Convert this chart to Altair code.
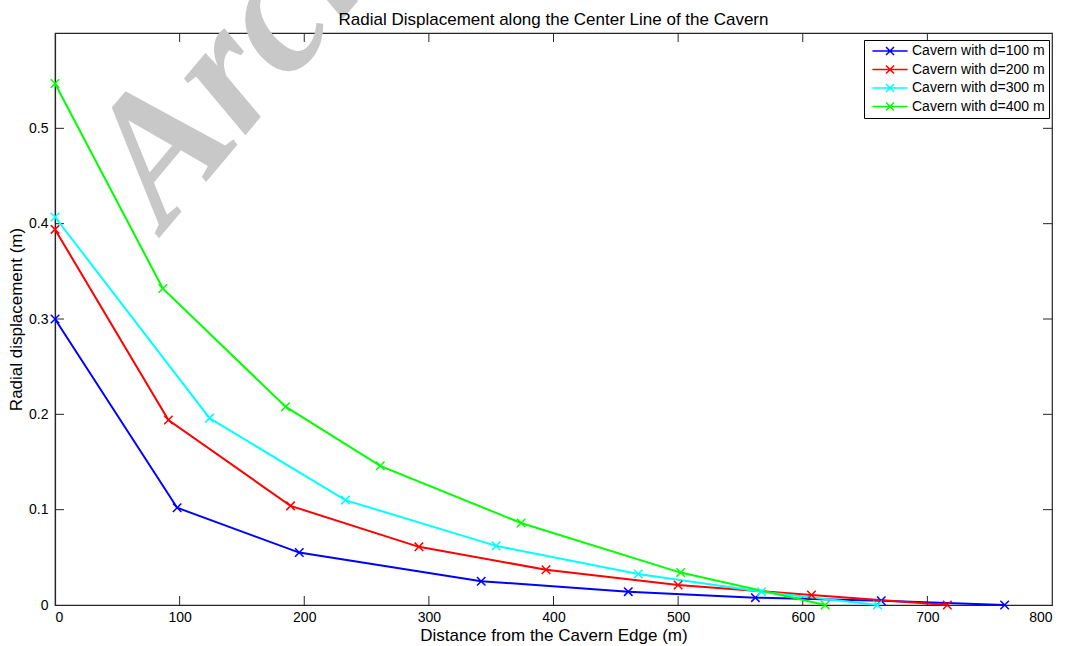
import altair as alt
import pandas as pd

# ---------------- data ----------------
series_names = ["Cavern with d=100 m", "Cavern with d=200 m",
                "Cavern with d=300 m", "Cavern with d=400 m"]
series_colors = ["#0000ff", "#ff0000", "#00ffff", "#00ff00"]

d100_x = [0, 98, 196, 342, 460, 562, 663, 762]
d100_y = [0.300, 0.102, 0.055, 0.025, 0.014, 0.0077, 0.0045, 0.0]

d200_x = [0, 91, 189, 292, 394, 500, 607, 716]
d200_y = [0.394, 0.194, 0.104, 0.061, 0.037, 0.021, 0.0105, 0.0]

d300_x = [0, 124, 233, 354, 468, 567, 660]
d300_y = [0.407, 0.196, 0.110, 0.062, 0.0325, 0.014, 0.0]

d400_x = [0, 86.5, 185, 261, 374, 502, 618]
d400_y = [0.547, 0.332, 0.208, 0.146, 0.086, 0.034, 0.0]

x_ticks = [0, 100, 200, 300, 400, 500, 600, 700, 800]
y_ticks = [0, 0.1, 0.2, 0.3, 0.4, 0.5]
inner_x_ticks = [100, 200, 300, 400, 500, 600, 700]
inner_y_ticks = [0.1, 0.2, 0.3, 0.4, 0.5]

title_text = "Radial Displacement along the Center Line of the Cavern"
x_title = "Distance from the Cavern Edge (m)"
y_title = "Radial displacement (m)"
watermark = "Archive of SID"

# ---------------- tables ----------------
rows = []
for name, xs, ys in zip(series_names, [d100_x, d200_x, d300_x, d400_x],
                        [d100_y, d200_y, d300_y, d400_y]):
    for i, (xv, yv) in enumerate(zip(xs, ys)):
        rows.append({"series": name, "x": xv, "y": yv, "i": i})
df = pd.DataFrame(rows)
xt = pd.DataFrame({"x": inner_x_ticks})
yt = pd.DataFrame({"y": inner_y_ticks})
wm = pd.DataFrame({"w": [watermark]})
tt = pd.DataFrame({"t": [title_text]})

W, H = 997, 572
FONT = "Liberation Sans"
FRAME = "#262626"

xscale = alt.Scale(domain=[0, 800], nice=False)
yscale = alt.Scale(domain=[0, 0.6], nice=False, zero=True)
cscale = alt.Scale(domain=series_names, range=series_colors)

X_PATH = "M-1,-1L1,1M-1,1L1,-1"
LEG_PATH = "M-4.4,0H4.4M-1,-1L1,1M-1,1L1,-1"

x_enc = alt.X("x:Q", scale=xscale,
              axis=alt.Axis(values=x_ticks, format="d", title=x_title,
                            tickSize=0, labelPadding=5, titlePadding=3,
                            grid=False))
y_enc = alt.Y("y:Q", scale=yscale,
              axis=alt.Axis(values=y_ticks, format="~g", title=y_title,
                            tickSize=0, labelPadding=7, titlePadding=3,
                            grid=False))

water = alt.Chart(wm).mark_text(
    angle=310, font="Liberation Serif", fontStyle="italic", fontWeight="bold",
    fontSize=182, color="#c8c8c8", align="left", baseline="alphabetic"
).encode(text="w:N", x=alt.value(110), y=alt.value(198))

title = alt.Chart(tt).mark_text(
    font=FONT, fontSize=17, color="black", align="center",
    baseline="alphabetic"
).encode(text="t:N", x=alt.value(W / 2), y=alt.value(-8))

lines = alt.Chart(df).mark_line(strokeWidth=2).encode(
    x=x_enc, y=y_enc, order="i:Q",
    color=alt.Color("series:N", scale=cscale,
                    legend=alt.Legend(
                        title=None, orient="none", legendX=809, legendY=7,
                        symbolType=LEG_PATH, symbolSize=64,
                        symbolStrokeWidth=1.5, symbolOffset=15,
                        labelOffset=15, padding=4, rowPadding=4.5,
                        strokeColor="black", fillColor="white",
                        labelFont=FONT, labelFontSize=14,
                        labelColor="black", labelLimit=400,
                        cornerRadius=0)))

points = alt.Chart(df).mark_point(
    shape=X_PATH, size=72, filled=False, strokeWidth=1.5, opacity=1
).encode(x="x:Q", y="y:Q",
         color=alt.Color("series:N", scale=cscale, legend=None))

tick_bottom = alt.Chart(xt).mark_rule(color=FRAME, strokeWidth=1).encode(
    x=alt.X("x:Q", scale=xscale), y=alt.value(H), y2=alt.value(H - 9))
tick_top = alt.Chart(xt).mark_rule(color=FRAME, strokeWidth=1).encode(
    x=alt.X("x:Q", scale=xscale), y=alt.value(0), y2=alt.value(9))
tick_left = alt.Chart(yt).mark_rule(color=FRAME, strokeWidth=1).encode(
    y=alt.Y("y:Q", scale=yscale), x=alt.value(0), x2=alt.value(9))
tick_right = alt.Chart(yt).mark_rule(color=FRAME, strokeWidth=1).encode(
    y=alt.Y("y:Q", scale=yscale), x=alt.value(W), x2=alt.value(W - 9))

chart = alt.layer(
    water, title, tick_bottom, tick_top, tick_left, tick_right, lines, points
).properties(
    width=W, height=H,
    autosize=alt.AutoSizeParams(type="none"),
    padding={"left": 55, "top": 33, "right": 19, "bottom": 41},
    background="white",
).configure_view(
    stroke=FRAME, strokeWidth=1.2
).configure_axis(
    domainColor=FRAME, domainWidth=1.2,
    labelFont=FONT, labelFontSize=14, labelColor="black",
    titleFont=FONT, titleFontSize=17, titleFontWeight="normal",
    titleColor="black"
)

chart.save("out.html", embed_options={"renderer": "svg", "actions": False})
